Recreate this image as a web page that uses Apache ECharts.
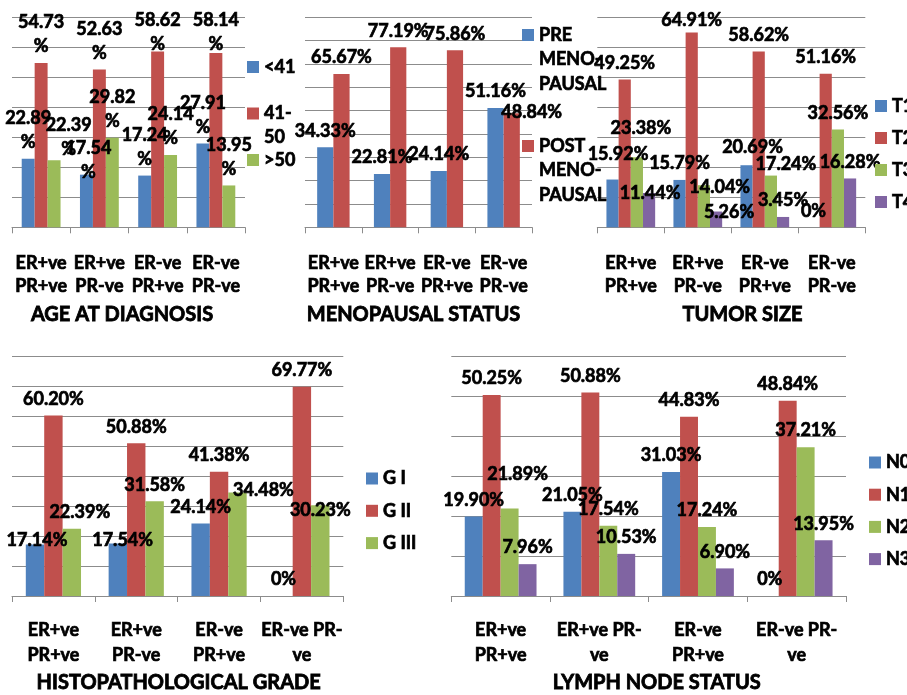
<!DOCTYPE html>
<html>
<head>
<meta charset="utf-8">
<script src="https://cdn.jsdelivr.net/npm/echarts@6/dist/echarts.min.js"></script>
<style>
  html, body { margin: 0; padding: 0; background: #ffffff; }
  #chart { width: 907px; height: 695px; }
</style>
</head>
<body>
<div id="chart"></div>
<script>
// Receptor groups shared by every panel
const categories = ['ER+ve PR+ve', 'ER+ve PR-ve', 'ER-ve PR+ve', 'ER-ve PR-ve'];

// Category tick labels, wrapped the way each panel shows them
const tickLabelsTop = ['ER+ve\nPR+ve', 'ER+ve\nPR-ve', 'ER-ve\nPR+ve', 'ER-ve\nPR-ve'];
const tickLabelsGrade = ['ER+ve\nPR+ve', 'ER+ve\nPR-ve', 'ER-ve\nPR+ve', 'ER-ve PR-\nve'];
const tickLabelsNode = ['ER+ve\nPR+ve', 'ER+ve PR-\nve', 'ER-ve\nPR+ve', 'ER-ve PR-\nve'];

// Age at diagnosis (%)
const ageLt41 = [22.89, 17.54, 17.24, 27.91];
const age41to50 = [54.73, 52.63, 58.62, 58.14];
const ageGt50 = [22.39, 29.82, 24.14, 13.95];

// Menopausal status (%)
const menoPre = [34.33, 22.81, 24.14, 51.16];
const menoPost = [65.67, 77.19, 75.86, 48.84];

// Tumor size (%)
const tumorT1 = [15.92, 15.79, 20.69, 0];
const tumorT2 = [49.25, 64.91, 58.62, 51.16];
const tumorT3 = [23.38, 14.04, 17.24, 32.56];
const tumorT4 = [11.44, 5.26, 3.45, 16.28];

// Histopathological grade (%)
const gradeI = [17.14, 17.54, 24.14, 0];
const gradeII = [60.20, 50.88, 41.38, 69.77];
const gradeIII = [22.39, 31.58, 34.48, 30.23];

// Lymph node status (%)
const nodeN0 = [19.90, 21.05, 31.03, 0];
const nodeN1 = [50.25, 50.88, 44.83, 48.84];
const nodeN2 = [21.89, 17.54, 17.24, 37.21];
const nodeN3 = [7.96, 10.53, 6.90, 13.95];

// Office-style palette
const BLUE = '#4F81BD', RED = '#C0504D', GREEN = '#9BBB59', PURPLE = '#8064A2';
const GRID_COLOR = '#8c8c8c';
const FONT = 'Lato';

// Hand-placed value labels that sit away from the bar top (dx, dy in px)
const labelNudges = {
  '>50': { 0: [14.6, 6] },
  '<41': { 1: [2, 14] },
  '41-50': { 2: [0, 9], 3: [0, 7.5] },
  'POST MENO-PAUSAL': { 3: [20, 15] },
  'T1': { 0: [5.5, -8.5], 2: [6, -1.5] },
  'T2': { 1: [0, 3.7] },
  'T3': { 0: [4, -12], 1: [15.8, 18.5], 2: [15, 4.7] },
  'T4': { 0: [1, 16.7], 1: [13, 17.2] },
  'G I': { 0: [2, 11.7], 1: [4.8, 12.9] },
  'G III': { 0: [8, 0], 2: [26, 14.4], 3: [0, 21] },
  'N2': { 0: [8, -17.4] }
};

// Legend text: leading blank lines keep the swatch beside the first line
const legendText = {
  '41-50': '\n41-\n50',
  'PRE MENO-PAUSAL': '\n\nPRE\nMENO-\nPAUSAL',
  'POST MENO-PAUSAL': '\n\nPOST\nMENO-\nPAUSAL'
};

const panels = [
  { grid: { left: 12, top: 17.3, width: 233, height: 210 }, max: 70, gap: '33.333%', ticks: tickLabelsTop, margin: 24.5, tickLine: 23 },
  { grid: { left: 305, top: 17.3, width: 227, height: 210 }, max: 90, gap: '42.857%', ticks: tickLabelsTop, margin: 24.5, tickLine: 23 },
  { grid: { left: 597.3, top: 17.3, width: 268, height: 210 }, max: 70, gap: '27.273%', ticks: tickLabelsTop, margin: 24.5, tickLine: 23 },
  { grid: { left: 12, top: 356, width: 331.3, height: 240 }, max: 80, gap: '33.333%', ticks: tickLabelsGrade, margin: 21.5, tickLine: 25 },
  { grid: { left: 451.3, top: 356, width: 394.7, height: 240 }, max: 60, gap: '27.273%', ticks: tickLabelsNode, margin: 21.5, tickLine: 25 }
];

const pct = v => (v === 0 ? '0%' : v.toFixed(2) + '%');
const pctWrapped = v => v.toFixed(2) + '\n%';

// Heavy black text: bold face plus a hairline outline
const textBase = {
  fontFamily: FONT, fontWeight: 'bold', fontSize: 18, color: '#000',
  textBorderColor: '#000', textBorderWidth: 0.7
};

function barSeries(name, values, panelIndex, color, fmt) {
  const nudges = labelNudges[name] || {};
  return {
    type: 'bar',
    name: name,
    xAxisIndex: panelIndex,
    yAxisIndex: panelIndex,
    barGap: '0%',
    barCategoryGap: panels[panelIndex].gap,
    itemStyle: { color: color },
    label: Object.assign({
      show: true,
      position: 'top',
      distance: 4.5,
      lineHeight: 24,
      formatter: p => fmt(p.value)
    }, textBase),
    data: values.map((v, i) => nudges[i] ? { value: v, label: { offset: nudges[i] } } : v)
  };
}

const series = [
  barSeries('<41', ageLt41, 0, BLUE, pctWrapped),
  barSeries('41-50', age41to50, 0, RED, pctWrapped),
  barSeries('>50', ageGt50, 0, GREEN, pctWrapped),
  barSeries('PRE MENO-PAUSAL', menoPre, 1, BLUE, pct),
  barSeries('POST MENO-PAUSAL', menoPost, 1, RED, pct),
  barSeries('T1', tumorT1, 2, BLUE, pct),
  barSeries('T2', tumorT2, 2, RED, pct),
  barSeries('T3', tumorT3, 2, GREEN, pct),
  barSeries('T4', tumorT4, 2, PURPLE, pct),
  barSeries('G I', gradeI, 3, BLUE, pct),
  barSeries('G II', gradeII, 3, RED, pct),
  barSeries('G III', gradeIII, 3, GREEN, pct),
  barSeries('N0', nodeN0, 4, BLUE, pct),
  barSeries('N1', nodeN1, 4, RED, pct),
  barSeries('N2', nodeN2, 4, GREEN, pct),
  barSeries('N3', nodeN3, 4, PURPLE, pct)
];

function legend(names, left, top, gap, lineHeight) {
  return {
    orient: 'vertical',
    left: left,
    top: top,
    padding: 0,
    itemGap: gap,
    itemWidth: 12,
    itemHeight: 12,
    icon: 'rect',
    selectedMode: false,
    data: names,
    formatter: n => legendText[n] || n,
    textStyle: Object.assign({ lineHeight: lineHeight }, textBase)
  };
}

function title(text, cx, cy) {
  return {
    text: text,
    left: cx,
    top: cy,
    padding: 0,
    textAlign: 'center',
    textVerticalAlign: 'middle',
    textStyle: Object.assign({}, textBase, { fontSize: 20, lineHeight: 24, textBorderWidth: 0.8 })
  };
}

const option = {
  backgroundColor: '#ffffff',
  animation: false,
  title: [
    title('AGE AT DIAGNOSIS', 122, 315),
    title('MENOPAUSAL STATUS', 413.5, 315),
    title('TUMOR SIZE', 742.5, 315),
    title('HISTOPATHOLOGICAL GRADE', 178.7, 683),
    title('LYMPH NODE STATUS', 656.7, 683)
  ],
  legend: [
    legend(['<41', '41-50', '>50'], 247, 55, -1.5, 24),
    legend(['PRE MENO-PAUSAL', 'POST MENO-PAUSAL'], 522, -26.25, -11.5, 24.5),
    legend(['T1', 'T2', 'T3', 'T4'], 875, 94, 8, 24),
    legend(['G I', 'G II', 'G III'], 366, 466.5, 8.3, 24),
    legend(['N0', 'N1', 'N2', 'N3'], 869, 450.5, 8.2, 24)
  ],
  grid: panels.map(p => Object.assign({ containLabel: false, outerBoundsMode: 'none' }, p.grid)),
  xAxis: panels.map((p, i) => ({
    type: 'category',
    gridIndex: i,
    data: categories,
    axisLine: { show: true, lineStyle: { color: GRID_COLOR, width: 1 } },
    axisTick: { show: true, length: 6, lineStyle: { color: GRID_COLOR, width: 1 } },
    axisLabel: Object.assign({
      interval: 0,
      margin: p.margin,
      lineHeight: p.tickLine,
      formatter: (v, idx) => p.ticks[idx]
    }, textBase)
  })),
  yAxis: panels.map((p, i) => ({
    type: 'value',
    gridIndex: i,
    min: 0,
    max: p.max,
    interval: 10,
    axisLine: { show: false },
    axisTick: { show: false },
    axisLabel: { show: false },
    splitLine: { show: true, lineStyle: { color: GRID_COLOR, width: 1 } }
  })),
  series: series
};

const chart = echarts.init(document.getElementById('chart'), null, { renderer: 'canvas' });
chart.setOption(option);
</script>
</body>
</html>
